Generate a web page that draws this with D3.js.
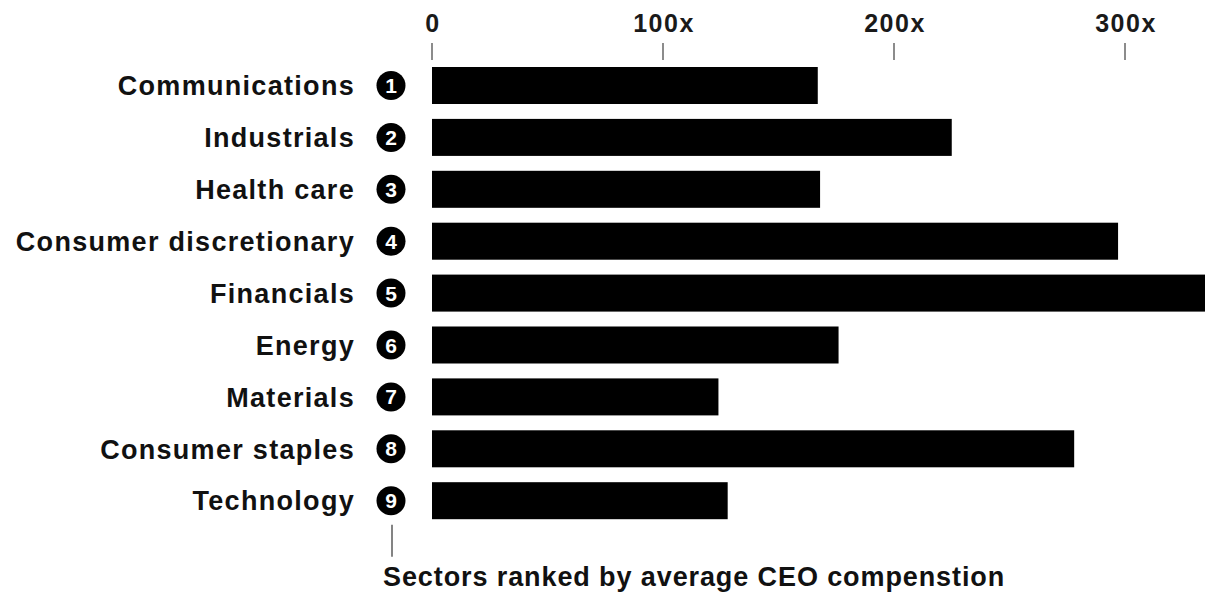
<!DOCTYPE html>
<html>
<head>
<meta charset="utf-8">
<script src="https://cdn.jsdelivr.net/npm/d3@7"></script>
<style>
  html, body { margin: 0; padding: 0; background: #fff; }
  svg { display: block; }
  text { font-family: "Liberation Sans", Arial, Helvetica, sans-serif; }
</style>
</head>
<body>
<svg id="chart" width="1205" height="592"></svg>
<script>
const categories = ["Communications", "Industrials", "Health care", "Consumer discretionary",
  "Financials", "Energy", "Materials", "Consumer staples", "Technology"];
const ranks = [1, 2, 3, 4, 5, 6, 7, 8, 9];
const values = [167, 225, 168, 297, 345, 176, 124, 278, 128];
const tickValues = [0, 100, 200, 300];
const tickLabels = ["0", "100x", "200x", "300x"];
const footnote = "Sectors ranked by average CEO compenstion";

const svg = d3.select("#chart");
const x = d3.scaleLinear().domain([0, 300]).range([432, 1125]);
const y = d3.scaleBand().domain(categories).range([67, 519.2]).paddingInner(0.287).paddingOuter(0);

// axis ticks
const ax = svg.append("g");
ax.selectAll("line").data(tickValues).join("line")
  .attr("x1", d => x(d)).attr("x2", d => x(d))
  .attr("y1", 43).attr("y2", 60)
  .attr("stroke", "#666").attr("stroke-width", 1.5);
ax.selectAll("text").data(tickValues).join("text")
  .attr("x", d => x(d) + 1).attr("y", 32)
  .attr("text-anchor", "middle")
  .attr("font-size", 25).attr("font-weight", "bold").attr("letter-spacing", 1.5)
  .attr("fill", "#1a1a1a")
  .text((d, i) => tickLabels[i]);

// bars
svg.append("g").selectAll("rect").data(categories).join("rect")
  .attr("x", x(0))
  .attr("y", d => y(d))
  .attr("width", (d, i) => x(values[i]) - x(0))
  .attr("height", y.bandwidth())
  .attr("fill", "#000");

// labels
svg.append("g").selectAll("text").data(categories).join("text")
  .attr("x", 355)
  .attr("y", d => y(d) + y.bandwidth() / 2)
  .attr("dy", "0.36em")
  .attr("text-anchor", "end")
  .attr("font-size", 27).attr("font-weight", "bold").attr("letter-spacing", 1.3)
  .attr("fill", "#111")
  .text(d => d);

// rank circles
const rk = svg.append("g").selectAll("g").data(categories).join("g")
  .attr("transform", d => `translate(391,${y(d) + y.bandwidth() / 2})`);
rk.append("circle").attr("r", 14.5).attr("fill", "#000");
rk.append("text")
  .attr("text-anchor", "middle").attr("dy", "0.36em")
  .attr("font-size", 21).attr("font-weight", "bold").attr("fill", "#fff")
  .text((d, i) => ranks[i]);

// leader line and footnote
const lastY = y(categories[categories.length - 1]) + y.bandwidth() / 2;
svg.append("line")
  .attr("x1", 392).attr("x2", 392)
  .attr("y1", lastY + 24).attr("y2", lastY + 56)
  .attr("stroke", "#777").attr("stroke-width", 1.8);
svg.append("text")
  .attr("x", 383).attr("y", 586)
  .attr("font-size", 27).attr("font-weight", "bold").attr("letter-spacing", 0.9)
  .attr("fill", "#111")
  .text(footnote);
</script>
</body>
</html>
